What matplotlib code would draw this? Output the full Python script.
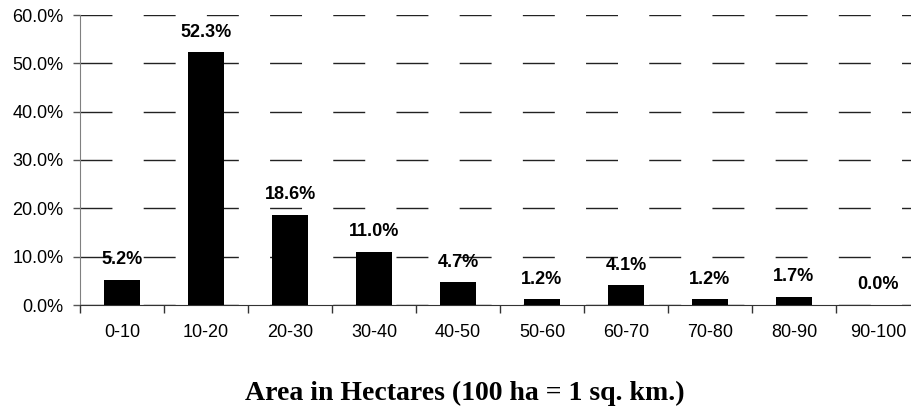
import numpy as np
from matplotlib import pyplot as plt
from matplotlib.ticker import PercentFormatter, FixedLocator

categories = ["0-10", "10-20", "20-30", "30-40", "40-50",
              "50-60", "60-70", "70-80", "80-90", "90-100"]
values = [5.2, 52.3, 18.6, 11.0, 4.7, 1.2, 4.1, 1.2, 1.7, 0.0]
x_title = "Area in Hectares (100 ha = 1 sq. km.)"

plt.rcParams['font.family'] = ['Liberation Sans', 'DejaVu Sans']

fig = plt.figure(figsize=(9.11, 4.07), dpi=100)
# plot area runs a little past the right edge, as in the original
ax = fig.add_axes([80/911, 102/407, 840/911, 290/407])

x = np.arange(len(categories))
ax.bar(x, values, width=0.42, color="black", zorder=3)

ax.set_xlim(-0.5, len(categories) - 0.5)
ax.set_ylim(0, 60)

# dashed grid lines (long dashes, ~32 px on / 31 px off)
ax.yaxis.grid(True, color="#222222", lw=1, linestyle=(0, (23, 22.5)), zorder=0)
ax.set_axisbelow(True)

ax.yaxis.set_major_locator(FixedLocator(np.arange(0, 61, 10)))
ax.yaxis.set_major_formatter(PercentFormatter(decimals=1))
ax.tick_params(axis="y", length=5, width=1, color="#555555", labelsize=13, pad=7)

ax.set_xticks(x)
ax.set_xticklabels(categories)
ax.set_xticks(np.arange(-0.5, len(categories)), minor=True)
ax.tick_params(axis="x", which="major", length=0, labelsize=13, pad=14)
ax.tick_params(axis="x", which="minor", length=6, width=1, color="#333333")

for side in ("top", "right"):
    ax.spines[side].set_visible(False)
ax.spines["left"].set_color("#808080")
ax.spines["bottom"].set_color("#333333")

for xi, v in zip(x, values):
    ax.annotate(f"{v:.1f}%", (xi, v), xytext=(0, 14.5), textcoords="offset points",
                ha="center", va="center", fontsize=13, fontweight="bold")

fig.text(465/911, 1 - 393/407, x_title, ha="center", va="center",
         fontsize=20, fontweight="bold", family=["Liberation Serif", "DejaVu Serif"])

fig.savefig("out.png", dpi=100)
